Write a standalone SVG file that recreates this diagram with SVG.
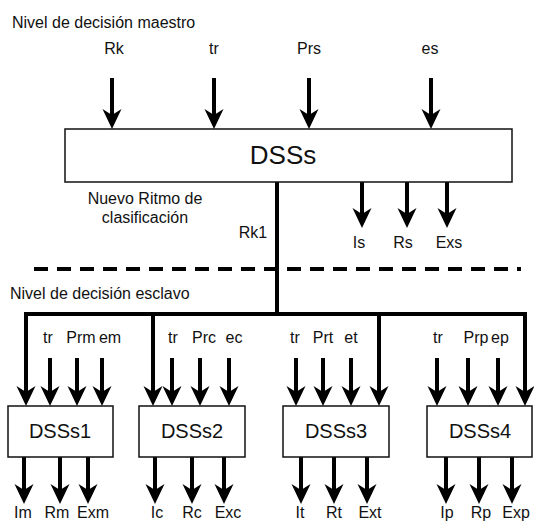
<svg xmlns="http://www.w3.org/2000/svg" width="534" height="522" viewBox="0 0 534 522">
<style>
text{font-family:"Liberation Sans",Arial,sans-serif;fill:#111;}
.lbl{font-size:16px;text-anchor:middle;}
.note{font-size:16px;}
.box{fill:#fff;stroke:#111;stroke-width:1.5;}
.big{font-size:26px;text-anchor:middle;}
.mid{font-size:20px;text-anchor:middle;}
.ar{stroke:#000;stroke-width:4;fill:none;marker-end:url(#ah);}
.ln{stroke:#000;stroke-width:4;fill:none;}
.dash{stroke:#000;stroke-width:4;stroke-dasharray:14 9;fill:none;}
</style>
<defs>
<marker id="ah" viewBox="-12 -11 24 22" markerWidth="24" markerHeight="22" refX="0" refY="0" markerUnits="userSpaceOnUse" orient="auto">
<path d="M10,0 L-10,-9.5 L-4,0 L-10,9.5 Z" fill="#000"/>
</marker>
</defs>
<rect width="534" height="522" fill="#fff"/>
<text class="note" x="12" y="28">Nivel de decisión maestro</text>
<text class="note" x="10" y="299">Nivel de decisión esclavo</text>
<text class="note" x="145" y="204" text-anchor="middle">Nuevo Ritmo de</text>
<text class="note" x="145" y="223" text-anchor="middle">clasificación</text>
<text class="lbl" x="253" y="238">Rk1</text>
<g id="connectors">
<path class="ar" d="M112,78 V119"/>
<path class="ar" d="M214,78 V119"/>
<path class="ar" d="M309,78 V119"/>
<path class="ar" d="M431,78 V119"/>
<path class="ar" d="M362,182 V218"/>
<path class="ar" d="M407,182 V218"/>
<path class="ar" d="M447,182 V218"/>
<path class="ln" d="M277,182 V314"/>
<path class="dash" d="M34,269 H521"/>
<path class="ln" d="M26,314 H525"/>
<path class="ar" d="M26,312 V396"/>
<path class="ar" d="M153,314 V396"/>
<path class="ar" d="M379,314 V396"/>
<path class="ar" d="M525,312 V396"/>
<path class="ar" d="M50,358 V396"/>
<path class="ar" d="M77,358 V396"/>
<path class="ar" d="M102,358 V396"/>
<path class="ar" d="M172,358 V396"/>
<path class="ar" d="M200,358 V396"/>
<path class="ar" d="M229,358 V396"/>
<path class="ar" d="M296,358 V396"/>
<path class="ar" d="M323,358 V396"/>
<path class="ar" d="M351,358 V396"/>
<path class="ar" d="M437,358 V396"/>
<path class="ar" d="M468,358 V396"/>
<path class="ar" d="M498,358 V396"/>
<path class="ar" d="M24,457 V494"/>
<path class="ar" d="M60,457 V494"/>
<path class="ar" d="M88,457 V494"/>
<path class="ar" d="M155,457 V494"/>
<path class="ar" d="M192,457 V494"/>
<path class="ar" d="M224,457 V494"/>
<path class="ar" d="M301,457 V494"/>
<path class="ar" d="M334,457 V494"/>
<path class="ar" d="M367,457 V494"/>
<path class="ar" d="M446,457 V494"/>
<path class="ar" d="M479,457 V494"/>
<path class="ar" d="M512,457 V494"/>
</g>
<g id="inputs-master">
<text class="lbl" x="114" y="54">Rk</text>
<text class="lbl" x="214" y="54">tr</text>
<text class="lbl" x="309" y="54">Prs</text>
<text class="lbl" x="430" y="54">es</text>
</g>
<g id="DSSs">
<rect class="box" x="65" y="129" width="447" height="53"/>
<text class="big" x="283" y="164">DSSs</text>
</g>
<g id="outputs-master">
<text class="lbl" x="359" y="248">Is</text>
<text class="lbl" x="403" y="248">Rs</text>
<text class="lbl" x="449" y="248">Exs</text>
</g>
<g id="DSSs1">
<rect class="box" x="8" y="406" width="105" height="51"/>
<text class="mid" x="60" y="438">DSSs1</text>
<text class="lbl" x="48" y="343">tr</text>
<text class="lbl" x="81" y="343">Prm</text>
<text class="lbl" x="110" y="343">em</text>
<text class="lbl" x="23" y="518">Im</text>
<text class="lbl" x="57" y="518">Rm</text>
<text class="lbl" x="93" y="518">Exm</text>
</g>
<g id="DSSs2">
<rect class="box" x="139" y="406" width="106" height="51"/>
<text class="mid" x="192" y="438">DSSs2</text>
<text class="lbl" x="173" y="343">tr</text>
<text class="lbl" x="204" y="343">Prc</text>
<text class="lbl" x="234" y="343">ec</text>
<text class="lbl" x="157" y="518">Ic</text>
<text class="lbl" x="192" y="518">Rc</text>
<text class="lbl" x="228" y="518">Exc</text>
</g>
<g id="DSSs3">
<rect class="box" x="283" y="406" width="106" height="51"/>
<text class="mid" x="336" y="438">DSSs3</text>
<text class="lbl" x="295" y="343">tr</text>
<text class="lbl" x="323" y="343">Prt</text>
<text class="lbl" x="351" y="343">et</text>
<text class="lbl" x="300" y="518">It</text>
<text class="lbl" x="334" y="518">Rt</text>
<text class="lbl" x="370" y="518">Ext</text>
</g>
<g id="DSSs4">
<rect class="box" x="427" y="406" width="105" height="51"/>
<text class="mid" x="480" y="438">DSSs4</text>
<text class="lbl" x="438" y="343">tr</text>
<text class="lbl" x="476" y="343">Prp</text>
<text class="lbl" x="500" y="343">ep</text>
<text class="lbl" x="447" y="518">Ip</text>
<text class="lbl" x="481" y="518">Rp</text>
<text class="lbl" x="516" y="518">Exp</text>
</g>
</svg>
